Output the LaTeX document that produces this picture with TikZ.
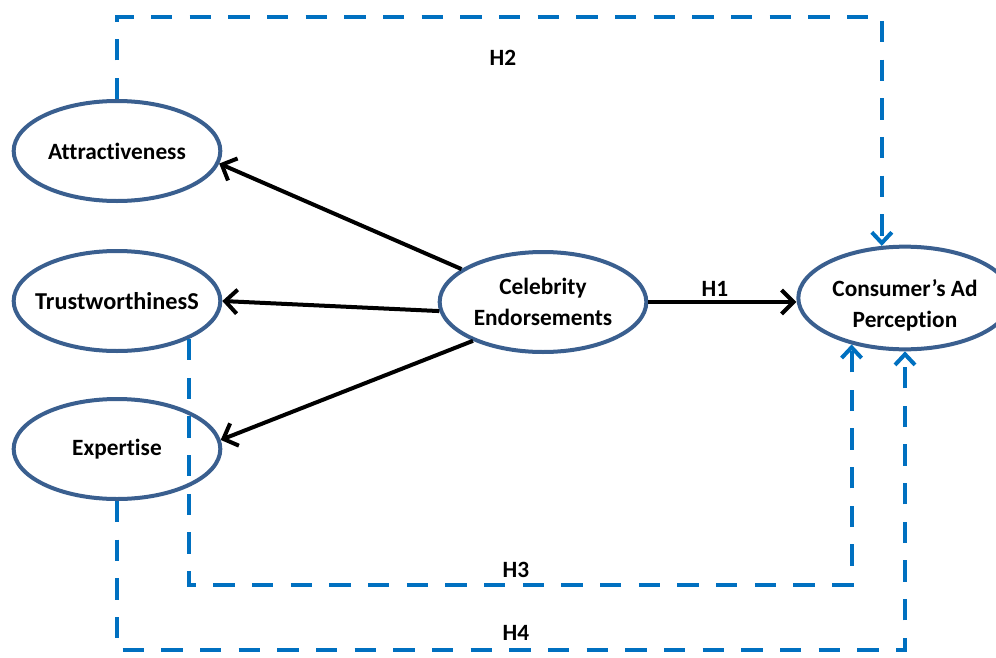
\documentclass[tikz,border=0pt]{standalone}
\usepackage{fontspec}
\setmainfont[Ligatures=NoCommon]{Carlito}
\usetikzlibrary{shapes.geometric,arrows.meta}
\definecolor{rimblue}{RGB}{58,95,143}
\definecolor{hypblue}{RGB}{0,112,192}
\tikzset{
 construct/.style={ellipse, draw=rimblue, line width=3pt, fill=white, inner sep=0pt,
   minimum width=155pt, minimum height=75pt, align=center,
   font=\bfseries\fontsize{17.5}{23.5}\selectfont},
 effect/.style={draw=black, line width=3pt, -{Straight Barb[length=9pt,width=18pt]}},
 hypo/.style={draw=hypblue, line width=3pt, dash pattern=on 16pt off 13pt,
   -{Straight Barb[length=8pt,width=15pt]}},
 hlabel/.style={font=\bfseries\fontsize{17.5}{22.5}\selectfont}
}
\begin{document}
\begin{tikzpicture}[x=0.75pt, y=-0.75pt]
 \useasboundingbox (0,0) rectangle (996,657);
 \clip (0,0) rectangle (996,657);

 \node (att) [construct] at (117,151) {Attractiveness};
 \node (trust) [construct, font=\bfseries\fontsize{18.2}{22}\selectfont] at (117,301)
   {\makebox[100pt]{TrustworthinesS}};
 \node (exp) [construct] at (117,449) {Expertise};
 \node (celeb) [construct] at (543,302) {Celebrity\\Endorsements};
 \node (cons) [construct, minimum width=160pt, minimum height=77pt] at (905,298)
   {\rule{0pt}{24pt}Consumer’s Ad\\Perception};

 \coordinate (top) at (0,17);
 \coordinate (low3) at (0,585);
 \coordinate (low4) at (0,650);

 % celebrity endorsement dimensions
 \path [effect] (celeb.158) -- (att.-7);
 \path [effect] (celeb.185) -- (trust.east);
 \path [effect] (celeb.209) -- (exp.5);
 \path [effect] (celeb.east) -- node[hlabel, above, pos=0.45, inner sep=3pt] {H1} (celeb.east -| cons.west);

 % hypotheses
 \path [hypo] (att.north) -- (att.north |- top) -| (cons.114);
 \path [hypo] (trust.-28) -- (trust.-28 |- low3) -| (cons.221);
 \path [hypo] (exp.south) -- (exp.south |- low4) -| (cons.south);

 \node (h2) [hlabel] at (503,58) {H2};
 \node (h3) [hlabel] at (516,570) {H3};
 \node (h4) [hlabel] at (516,633) {H4};
\end{tikzpicture}
\end{document}
